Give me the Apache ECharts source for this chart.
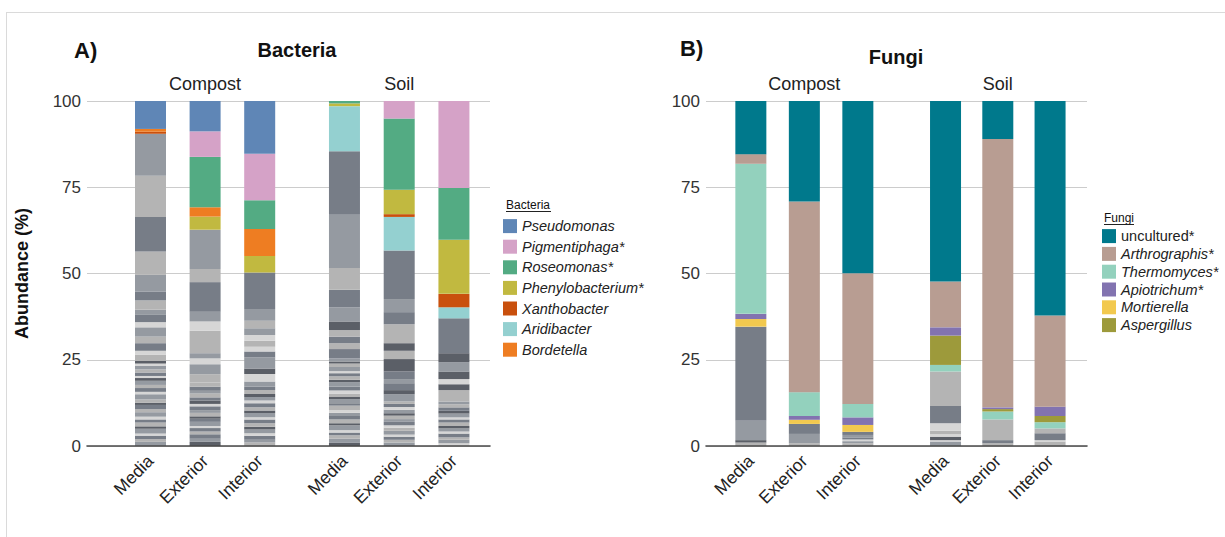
<!DOCTYPE html>
<html><head><meta charset="utf-8">
<script src="https://cdn.jsdelivr.net/npm/echarts/dist/echarts.min.js"></script>
<style>
html,body{margin:0;padding:0;background:#fff;}
#frame{position:absolute;left:6px;top:12px;width:1219px;height:525px;border-left:1px solid #dadada;border-top:1px solid #dadada;}
#chart{position:absolute;left:0;top:0;width:1225px;height:537px;}
</style></head>
<body><div id="frame"></div><div id="chart"></div>
<script>
// ---------- categories / labels ----------
const barLabels = ['Media', 'Exterior', 'Interior'];
const groupLabels = ['Compost', 'Soil'];
const yTicks = [0, 25, 50, 75, 100];

// ---------- Bacteria named taxa: [C-Media, C-Exterior, C-Interior, S-Media, S-Exterior, S-Interior] ----------
const pseudomonas      = [8.1, 8.8, 15.3, 0, 0, 0];
const pigmentiphaga    = [0, 7.4, 13.5, 0, 5.1, 25.2];
const roseomonas       = [0, 14.6, 8.3, 0.7, 20.6, 15.0];
const phenylobacterium = [0, 3.8, 4.8, 0.8, 7.1, 15.7];
const xanthobacter     = [0.6, 0, 0, 0, 0.8, 3.9];
const aridibacter      = [0, 0, 0, 13.1, 9.7, 3.2];
const bordetella       = [0.8, 2.7, 7.8, 0, 0, 0];

// ---------- Fungi named taxa ----------
const uncultured    = [15.4, 29.1, 49.9, 52.3, 11.0, 62.2];
const arthrographis = [2.8, 55.3, 37.9, 13.3, 77.8, 26.4];
const thermomyces   = [43.5, 6.9, 3.9, 1.9, 2.3, 1.8];
const apiotrichum   = [1.5, 1.1, 2.2, 2.4, 0.5, 2.7];
const mortierella   = [2.2, 1.2, 2.0, 0, 0, 0];
const aspergillus   = [0, 0, 0, 8.5, 0.7, 1.8];

// ---------- other (grey) taxa per bar, bottom to top ----------
const bacOtherCM = [1.2,0.8,1.0,0.6,1.4,0.7,1.1,0.9,0.8,1.3,0.9,1.2,0.6,1.0,1.5,0.7,1.1,0.9,1.2,0.8,0.6,1.0,0.9,1.0,0.7,0.8,1.7,1.2,2.2,1.9,2.7,1.5,2.1,1.5,2.7,2.6,4.8,6.8,10.0,11.9,12.2];
const bacOtherCE = [1.2,0.9,1.3,0.8,1.0,0.6,1.2,0.9,0.7,1.0,0.8,1.1,0.7,1.0,0.9,1.1,0.8,1.2,1.2,2.4,2.9,1.7,1.5,6.5,2.7,2.8,8.6,3.8,11.4];
const bacOtherCI = [1.0,0.8,1.2,0.7,1.1,0.8,1.0,1.1,0.6,1.3,0.7,0.9,1.2,0.8,1.0,0.9,1.1,1.0,1.5,2.2,1.6,3.2,1.7,1.4,1.7,1.7,1.9,2.2,3.4,10.6];
const bacOtherSM = [0.9,1.2,1.0,0.8,0.7,1.4,0.6,1.1,1.0,0.9,0.8,1.3,0.7,1.2,0.6,1.0,0.9,1.1,1.3,0.7,1.0,0.9,0.6,1.2,1.0,0.6,0.9,2.7,1.7,1.9,1.9,2.5,4.1,5.1,6.3,15.4,18.4];
const bacOtherSE = [1.0,0.8,0.9,0.6,1.1,0.9,0.7,1.0,0.8,1.0,0.7,1.0,0.8,0.9,0.7,2.1,1.2,2.0,1.2,2.2,3.6,2.4,2.2,5.5,3.5,3.8,14.1];
const bacOtherSI = [0.8,1.0,0.7,1.1,0.6,0.9,0.7,1.0,0.9,0.6,1.1,0.8,1.0,0.9,0.8,3.3,1.7,1.5,2.2,2.7,2.6,10.1];
const funOtherCM = [1.0,0.7,5.6,27.3];
const funOtherCE = [0.8,2.7,2.9];
const funOtherCI = [0.8,0.6,0.5,0.6,0.7,0.9];
const funOtherSM = [1.3,0.4,1.0,0.7,1.0,2.2,5.0,10.0];
const funOtherSE = [0.8,0.9,6.0];
const funOtherSI = [1.3,0.4,2.0,1.4];

// grey shade keys for the segments above (styles)
const bacShadeCM = 'CDBECADBECDBADCEBDCAEBDCEA' + 'DEBDCEBCDBCDBDC';
const bacShadeCE = 'ACBDBECBADCBEABDCBD' + 'DCECDECBDC';
const bacShadeCI = 'DCBECADBECADBECADBC' + 'EACBEDECDCB';
const bacShadeSM = 'ACDBECADBCEDBCADEBCADBECDA' + 'CBDBDACBDCB';
const bacShadeSE = 'CDBECDEBCDACEBD' + 'CABCBADADBCB';
const bacShadeSI = 'ECDBECADBECABDC' + 'DAEACAB';
const funShadeCM = 'DACB', funShadeCE = 'DCB', funShadeCI = 'DCEBCB';
const funShadeSM = 'CEAEDEBD', funShadeSE = 'DBD', funShadeSI = 'DEBD';
const shadeColors = {A:'#5b5f67', B:'#777d87', C:'#959aa1', D:'#b4b4b4', E:'#d6d6d6'};

// ---------- taxa definitions (legend order) ----------
const bacteriaTaxa = [
  {name:'Pseudomonas', values:pseudomonas, color:'#5f86b6'},
  {name:'Pigmentiphaga*', values:pigmentiphaga, color:'#d5a2c7'},
  {name:'Roseomonas*', values:roseomonas, color:'#53ab83'},
  {name:'Phenylobacterium*', values:phenylobacterium, color:'#c1b940'},
  {name:'Xanthobacter', values:xanthobacter, color:'#c9500d'},
  {name:'Aridibacter', values:aridibacter, color:'#94d0d0'},
  {name:'Bordetella', values:bordetella, color:'#ee7d22'}
];
const fungiTaxa = [
  {name:'uncultured*', values:uncultured, color:'#00798c'},
  {name:'Arthrographis*', values:arthrographis, color:'#b89d92'},
  {name:'Thermomyces*', values:thermomyces, color:'#93d1bd'},
  {name:'Apiotrichum*', values:apiotrichum, color:'#8273b0'},
  {name:'Mortierella', values:mortierella, color:'#f2c94f'},
  {name:'Aspergillus', values:aspergillus, color:'#9d9a3b'}
];
// stacking order, bottom to top (after the grey segments)
const bacteriaStack = ['Aridibacter','Xanthobacter','Phenylobacterium*','Bordetella','Roseomonas*','Pigmentiphaga*','Pseudomonas'];
const fungiCompostStack = ['Aspergillus','Mortierella','Apiotrichum*','Thermomyces*','Arthrographis*','uncultured*'];
const fungiSoilStack = ['Mortierella','Thermomyces*','Aspergillus','Apiotrichum*','Arthrographis*','uncultured*'];

const FONT = '"Liberation Sans", Arial, Helvetica, sans-serif';
const BAR_W = 31;

function groupSeries(key, xi, yi, barIdx, others, shades, taxa, order) {
  const out = [];
  const n = Math.max(...others.map(o => o.length));
  for (let k = 0; k < n; k++) {
    out.push({
      type:'bar', name:key + '-other-' + k, stack:key, xAxisIndex:xi, yAxisIndex:yi,
      barWidth:BAR_W, silent:true, animation:false,
      data: others.map((o, j) => k < o.length
        ? {value:o[k], itemStyle:{color:shadeColors[shades[j][k]]}} : '-')
    });
  }
  order.forEach(nm => {
    const t = taxa.find(tt => tt.name === nm);
    out.push({
      type:'bar', name:t.name, stack:key, xAxisIndex:xi, yAxisIndex:yi,
      barWidth:BAR_W, silent:true, animation:false,
      itemStyle:{color:t.color},
      data: barIdx.map(i => t.values[i])
    });
  });
  return out;
}

const series = [].concat(
  groupSeries('bc', 1, 1, [0,1,2], [bacOtherCM,bacOtherCE,bacOtherCI], [bacShadeCM,bacShadeCE,bacShadeCI], bacteriaTaxa, bacteriaStack),
  groupSeries('bs', 3, 2, [3,4,5], [bacOtherSM,bacOtherSE,bacOtherSI], [bacShadeSM,bacShadeSE,bacShadeSI], bacteriaTaxa, bacteriaStack),
  groupSeries('fc', 6, 4, [0,1,2], [funOtherCM,funOtherCE,funOtherCI], [funShadeCM,funShadeCE,funShadeCI], fungiTaxa, fungiCompostStack),
  groupSeries('fs', 8, 5, [3,4,5], [funOtherSM,funOtherSE,funOtherSI], [funShadeSM,funShadeSE,funShadeSI], fungiTaxa, fungiSoilStack)
);

const TOP = 101, H = 345;
const grids = [
  {left:87, top:TOP, width:403, height:H},
  {left:123.2, top:TOP, width:163.8, height:H},
  {left:317.1, top:TOP, width:164.2, height:H},
  {left:706, top:TOP, width:381, height:H},
  {left:724.1, top:TOP, width:160.5, height:H},
  {left:919.4, top:TOP, width:156.8, height:H}
];

function baseX(gi) {
  return {gridIndex:gi, type:'value', min:0, max:1, z:5,
    axisLine:{show:true, onZero:false, lineStyle:{color:'#4a4a4a', width:1.6}},
    axisTick:{show:false}, axisLabel:{show:false}, splitLine:{show:false}};
}
function barX(gi) {
  return {gridIndex:gi, type:'category', data:barLabels,
    axisLine:{show:false}, axisTick:{show:false},
    axisLabel:{rotate:45, margin:12, fontSize:17.5, color:'#222', fontFamily:FONT, interval:0}};
}
function groupX(gi, label) {
  return {gridIndex:gi, type:'category', position:'top', data:[label],
    axisLine:{show:false}, axisTick:{show:false},
    axisLabel:{margin:8, fontSize:18, color:'#222', fontFamily:FONT}};
}
function baseY(gi, withName) {
  const y = {gridIndex:gi, type:'value', min:yTicks[0], max:yTicks[yTicks.length-1], interval:25,
    axisLine:{show:false}, axisTick:{show:false},
    axisLabel:{margin:6, fontSize:17, color:'#333', fontFamily:FONT},
    splitLine:{show:true, lineStyle:{color:'#cccccc', width:1}}};
  if (withName) {
    Object.assign(y, {name:'Abundance (%)', nameLocation:'middle', nameGap:56, nameRotate:90,
      nameTextStyle:{fontSize:18, fontWeight:'bold', color:'#111', fontFamily:FONT}});
  }
  return y;
}
function hiddenY(gi) { return {gridIndex:gi, type:'value', min:0, max:100, show:false}; }

function legendCfg(left, top, gap, taxa) {
  return {left:left, top:top, orient:'vertical', itemWidth:14, itemHeight:14, itemGap:gap,
    padding:0, selectedMode:false, icon:'rect',
    textStyle:{fontSize:14.5, fontStyle:'italic', color:'#222', fontFamily:FONT},
    data: taxa.map(t => t.name === 'uncultured*'
      ? {name:t.name, textStyle:{fontStyle:'normal'}} : {name:t.name})};
}

function txt(x, y, text, size, weight, align) {
  return {type:'text', x:x, y:y, silent:true,
    style:{text:text, fontSize:size, fontWeight:weight, fontFamily:FONT, fill:'#111',
      align:align, verticalAlign:'middle'}};
}

const option = {
  animation:false,
  grid: grids,
  xAxis: [baseX(0), barX(1), groupX(1, groupLabels[0]), barX(2), groupX(2, groupLabels[1]),
          baseX(3), barX(4), groupX(4, groupLabels[0]), barX(5), groupX(5, groupLabels[1])],
  yAxis: [baseY(0, true), hiddenY(1), hiddenY(2), baseY(3, false), hiddenY(4), hiddenY(5)],
  legend: [legendCfg(503, 218.6, 5.6, bacteriaTaxa), legendCfg(1102, 228.6, 2.8, fungiTaxa)],
  series: series,
  graphic: [
    txt(74, 50, 'A)', 22, 'bold', 'left'),
    txt(297, 50, 'Bacteria', 20, 'bold', 'center'),
    txt(680, 48, 'B)', 22, 'bold', 'left'),
    txt(896, 57, 'Fungi', 20, 'bold', 'center'),
    txt(506, 205, 'Bacteria', 12, 'normal', 'left'),
    {type:'line', silent:true, shape:{x1:506, y1:211.5, x2:551, y2:211.5}, style:{stroke:'#222', lineWidth:1}},
    txt(1104, 218, 'Fungi', 12, 'normal', 'left'),
    {type:'line', silent:true, shape:{x1:1104, y1:224.5, x2:1134, y2:224.5}, style:{stroke:'#222', lineWidth:1}}
  ]
};

const chart = echarts.init(document.getElementById('chart'), null, {renderer:'svg', width:1225, height:537});
chart.setOption(option);
</script>
</body></html>
